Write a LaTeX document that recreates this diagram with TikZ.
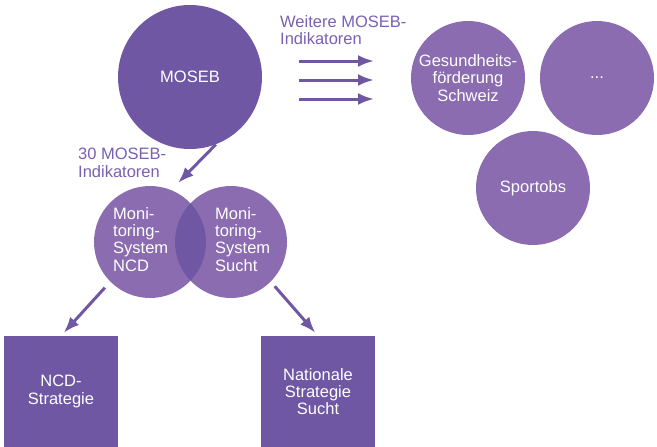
\documentclass[tikz,border=0pt]{standalone}
\usepackage{fontspec}
\setmainfont{Liberation Sans}
\usepackage{tikz}
\usetikzlibrary{positioning,arrows.meta,calc}
\definecolor{mosebdark}{RGB}{111,87,164}
\definecolor{moseblight}{RGB}{139,108,176}
\definecolor{labelpurple}{RGB}{122,96,176}

\begin{document}
\begin{tikzpicture}[
  x=1pt,y=-1pt,
  font=\fontsize{16.5}{17.3}\selectfont,
  big/.style={circle,fill=mosebdark,text=white,minimum size=144pt,inner sep=0pt},
  org/.style={circle,fill=moseblight,text=white,minimum size=114pt,inner sep=0pt,align=center},
  venn/.style={circle,fill=moseblight,minimum size=112pt,inner sep=0pt},
  vtxt/.style={text=white,align=left,anchor=base west,inner sep=0pt},
  strat/.style={fill=mosebdark,text=white,minimum width=114pt,minimum height=111pt,align=center,inner sep=0pt},
  lbl/.style={text=labelpurple,align=left,anchor=base west,inner sep=0pt},
  ar/.style={-{Latex[length=16pt,width=12pt]},mosebdark,line width=3pt},
]
\useasboundingbox (0,0) rectangle (657,447);
\node[big] (moseb) at (190,77) {MOSEB};
% labels (anchored at the last baseline)
\node[lbl] (weitere) at (280,45) {Weitere MOSEB-\\Indikatoren};
\node[lbl] (dreissig) at (78,177) {30 MOSEB-\\Indikatoren};
% venn part
\node[venn] (ncd) at (150,242) {};
\node[venn] (sucht) at (231,242) {};
\begin{scope}
  \clip (ncd) circle (56pt);
  \fill[mosebdark] (sucht) circle (56pt);
\end{scope}
\node[vtxt] (ncdtxt) at (113,271) {Moni-\\toring-\\System\\NCD};
\node[vtxt] (suchttxt) at (215,271) {Moni-\\toring-\\System\\Sucht};
% other organisations
\node[org] (gfs) at (468,78) {Gesundheits-\\förderung\\Schweiz};
\node[org] (dots) at (597,78) {...};
\node[org] (sportobs) at (533,188) {Sportobs};
% strategies
\node[strat] (ncdstrat) at (61,391.5) {NCD-\\Strategie};
\node[strat] (natstrat) at (318,391.5) {Nationale\\Strategie\\Sucht};
% arrows
\coordinate (vennin) at (178,183);
\draw[ar] (moseb.-69) -- (vennin);
\foreach \y [count=\i] in {61,80,99} {
  \coordinate (s\i) at (299,\y);
  \coordinate (e\i) at (374,\y);
  \draw[ar] (s\i) -- (e\i);
}
\draw[ar,shorten <=8pt,shorten >=4pt] (ncd.-135) -- (ncdstrat.north);
\draw[ar,shorten <=6pt,shorten >=4pt] (sucht.-45) -- (natstrat.north);
\end{tikzpicture}
\end{document}
